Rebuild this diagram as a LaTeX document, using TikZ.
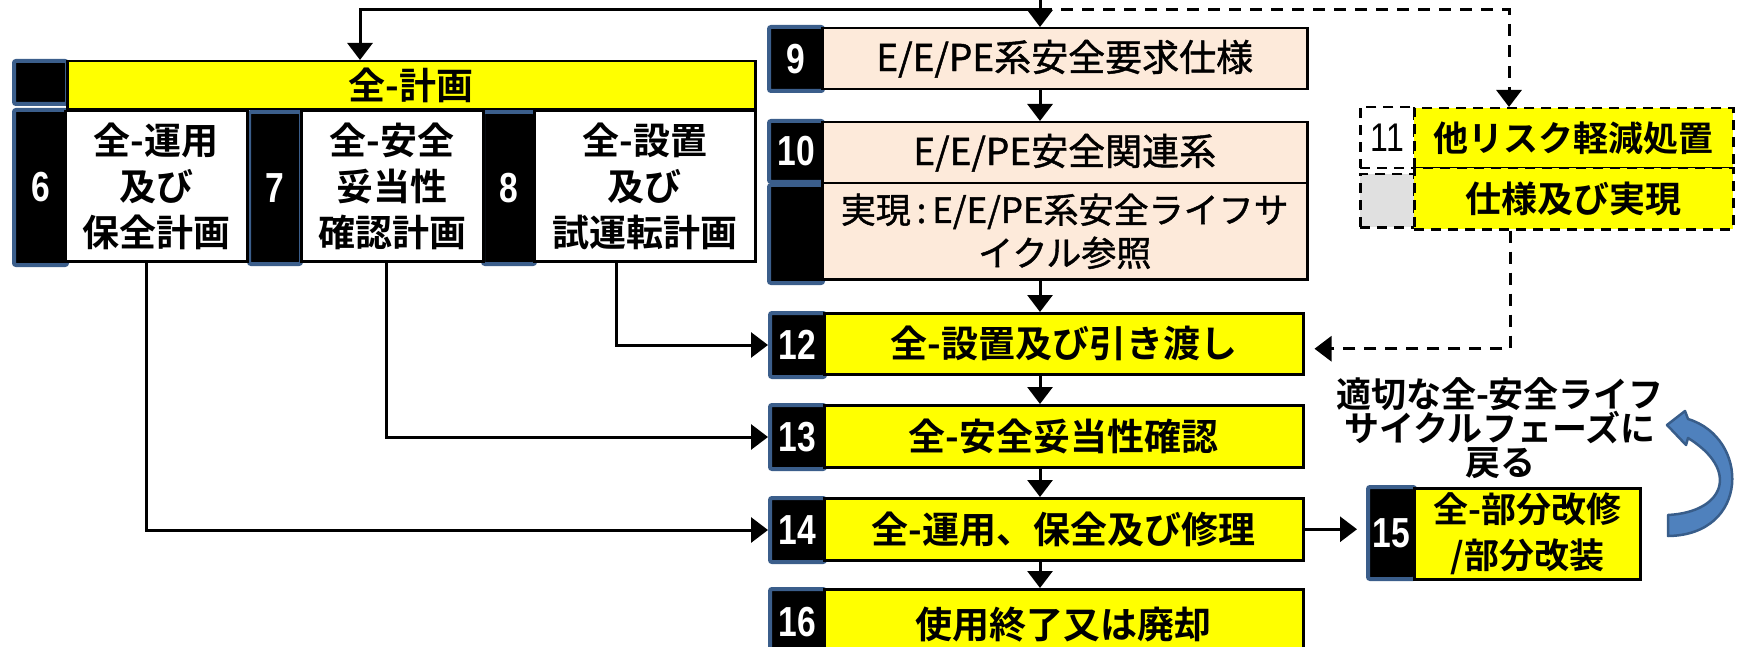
\documentclass[tikz,border=0pt]{standalone}
\usepackage{fontspec}
\setmainfont{Noto Sans CJK JP}[BoldFont={* Bold}]
\newfontfamily\jpmid{Noto Sans CJK JP}[FakeBold=1.2]
\newfontfamily\numfont{Liberation Sans}[FakeStretch=0.8]
\usetikzlibrary{arrows.meta}
\definecolor{nbblue}{RGB}{59,94,139}
\definecolor{peach}{RGB}{253,234,218}
\definecolor{ylw}{RGB}{255,255,0}
\definecolor{graybox}{RGB}{224,224,224}
\definecolor{arrowfill}{RGB}{79,129,189}
\definecolor{arrowline}{RGB}{56,93,138}
\tikzset{
  numbox/.style={fill=black, draw=nbblue, line width=4pt, rounded corners=2pt, inner sep=0pt, anchor=north west,
    text=white, font=\numfont\bfseries\fontsize{42}{42}\selectfont},
  basebox/.style={draw=black, line width=2.5pt, inner sep=0pt, anchor=north west, align=center,
    font=\bfseries\fontsize{37}{46}\selectfont},
  ybox/.style={basebox, fill=ylw},
  wbox/.style={basebox, fill=white},
  pbox/.style={basebox, fill=peach, font=\jpmid\fontsize{37}{43}\selectfont},
  dashbox/.style={basebox, dash pattern=on 10pt off 7pt},
  conn/.style={line width=3pt, -{Triangle[length=17pt,width=25pt]}},
  dconn/.style={conn, dash pattern=on 12pt off 9pt},
}
\begin{document}
\begin{tikzpicture}[x=1pt,y=-1pt]
\useasboundingbox (0,0) rectangle (1742,647);
\clip (0,0) rectangle (1742,647);

% ---- left planning group ----
\node[numbox, minimum width=53pt, minimum height=43pt] (nplan) at (12,59) {};
\node[numbox, minimum width=53pt, minimum height=155pt] (n6) at (12,108) {6};
\node[numbox, minimum width=52pt, minimum height=152pt] (n7) at (247,110) {7};
\node[numbox, minimum width=52pt, minimum height=152pt] (n8) at (481,110) {8};
\node[ybox, minimum width=688pt, minimum height=48pt] (plan) at (66,60) {全-計画};
\node[wbox, minimum width=182pt, minimum height=150pt] (b6) at (64,110) {全-運用\\及び\\保全計画};
\node[wbox, minimum width=182pt, minimum height=150pt] (b7) at (300,110) {全-安全\\妥当性\\確認計画};
\node[wbox, minimum width=221pt, minimum height=150pt] (b8) at (533,110) {全-設置\\及び\\試運転計画};

% ---- main column ----
\node[numbox, minimum width=54pt, minimum height=64pt] (n9) at (767,25) {9};
\node[pbox, minimum width=485pt, minimum height=61pt] (b9) at (821,27) {E/E/PE系安全要求仕様};
\node[numbox, minimum width=54pt, minimum height=61pt] (n10) at (767,119) {10};
\node[numbox, minimum width=54pt, minimum height=98pt] (n10b) at (767,183) {};
\node[pbox, minimum width=485pt, minimum height=61pt] (b10) at (821,121) {E/E/PE安全関連系};
\node[pbox, minimum width=485pt, minimum height=96pt, font=\jpmid\fontsize{35}{43}\selectfont] (b10b) at (821,182) {実現\,:\,E/E/PE系安全ライフサ\\イクル参照};

\node[numbox, minimum width=55pt, minimum height=64pt] (n12) at (768,311) {12};
\node[ybox, minimum width=479pt, minimum height=61pt] (b12) at (823,312) {全-設置及び引き渡し};
\node[numbox, minimum width=55pt, minimum height=64pt] (n13) at (768,403) {13};
\node[ybox, minimum width=479pt, minimum height=62pt] (b13) at (823,404) {全-安全妥当性確認};
\node[numbox, minimum width=55pt, minimum height=64pt] (n14) at (768,496) {14};
\node[ybox, minimum width=479pt, minimum height=62pt] (b14) at (823,497) {全-運用、保全及び修理};
\node[numbox, minimum width=55pt, minimum height=66pt] (n16) at (768,587) {16};
\node[ybox, minimum width=479pt, minimum height=70pt] (b16) at (823,588) {使用終了又は廃却};

% ---- box 11 ----
\node[dashbox, fill=white, minimum width=54pt, minimum height=61pt,
  font=\numfont\fontsize{40}{40}\selectfont] (n11) at (1359,106) {11};
\node[dashbox, fill=graybox, minimum width=54pt, minimum height=53pt] (n11b) at (1359,173) {};
\node[dashbox, fill=ylw, minimum width=319pt, minimum height=60pt, font=\bfseries\fontsize{35}{35}\selectfont] (b11) at (1413,107) {他リスク軽減処置};
\node[dashbox, fill=ylw, minimum width=319pt, minimum height=61pt, font=\bfseries\fontsize{36}{36}\selectfont] (b11b) at (1413,167) {仕様及び実現};

% ---- box 15 ----
\node[numbox, minimum width=47pt, minimum height=92pt] (n15) at (1366,485) {15};
\node[ybox, minimum width=226pt, minimum height=91pt, font=\bfseries\fontsize{35}{46}\selectfont] (b15) at (1413,487) {全-部分改修\\/部分改装};

\node[align=center, inner sep=0pt, font=\bfseries\fontsize{35}{34}\selectfont] (ret) at (1500,428) {適切な全-安全ライフ\\サイクルフェーズに\\戻る};

% ---- coordinates for connector columns ----
\coordinate (colx) at (1040,0);
\coordinate (topj) at (1040,10);
\coordinate (planx) at (360,0);
\coordinate (x11) at (1509,0);
\coordinate (x11b) at (1510,0);
\coordinate (x6) at (146,0);
\coordinate (x7) at (386,0);
\coordinate (x8) at (616,0);

% ---- connectors ----
\draw[conn] (colx) -- (b9.north -| colx);
\draw[conn] (topj) -| (plan.north -| planx);
\draw[dconn] (topj) -| (b11.north -| x11);
\draw[conn] (b9.south -| colx) -- (b10.north -| colx);
\draw[conn] (b10b.south -| colx) -- (b12.north -| colx);
\draw[conn] (b12.south -| colx) -- (b13.north -| colx);
\draw[conn] (b13.south -| colx) -- (b14.north -| colx);
\draw[conn] (b14.south -| colx) -- (b16.north -| colx);
\draw[conn] (b8.south -| x8) |- (n12.west);
\draw[conn] (b7.south -| x7) |- (n13.west);
\draw[conn] (b6.south -| x6) |- (n14.west);
\draw[dconn, shorten >=10pt] (b11b.south -| x11b) |- ([yshift=-5pt]b12.east);
\draw[conn, shorten >=9pt] (b14.east) -- (b14.east -| n15.west);

% ---- curved return arrow ----
\filldraw[fill=arrowfill, draw=arrowline, line width=2.5pt, line join=round]
  (1668,515) .. controls (1725,512) and (1740,470) .. (1688,438)
  -- (1686,445) -- (1667,425) -- (1685,411) -- (1688,419)
  .. controls (1750,438) and (1750,535) .. (1668,536) -- cycle;
\end{tikzpicture}
\end{document}
